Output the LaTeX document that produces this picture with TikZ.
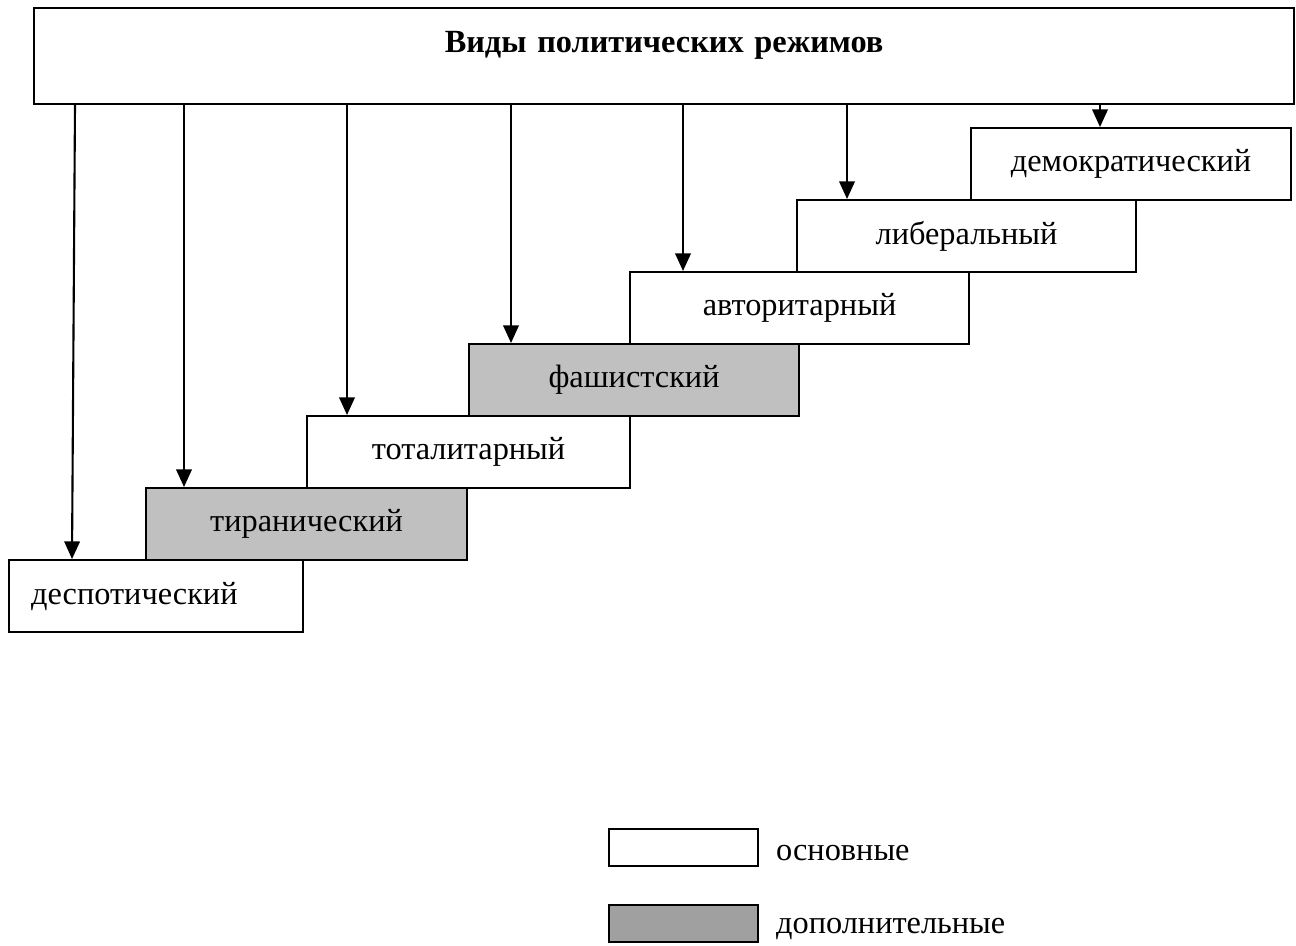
\documentclass[tikz,border=0pt]{standalone}
\usepackage{fontspec}
\setmainfont{Liberation Serif}
\usetikzlibrary{arrows.meta}

\definecolor{addgray}{HTML}{C0C0C0}
\definecolor{legendgray}{HTML}{A0A0A0}

\begin{document}
\begin{tikzpicture}[x=0.1mm, y=-0.1mm, line width=0.6pt,
  regime/.style={draw, anchor=north west, inner sep=0pt, minimum height=0.72cm, align=center, font=\fontsize{9.2}{11}\selectfont},
  extra/.style={regime, fill=addgray},
  arr/.style={-{Triangle[length=5pt, width=4.4pt]}}]

\useasboundingbox (0,0) rectangle (1296,945);

\node[draw, anchor=north west, inner sep=0pt, text width=12.6cm, text height=0.44cm, text depth=0.52cm, align=center, font=\fontsize{9.2}{11}\selectfont\bfseries] (0) at (33,7) {Виды политических режимов};

\node[regime, minimum width=3.2cm] (1) at (970,127) {демократический};
\node[regime, minimum width=3.39cm] (2) at (796,199) {либеральный};
\node[regime, minimum width=3.39cm] (3) at (629,271) {авторитарный};
\node[extra, minimum width=3.3cm] (4) at (468,343) {фашистский};
\node[regime, minimum width=3.23cm] (5) at (306,415) {тоталитарный};
\node[extra, minimum width=3.21cm] (6) at (145,487) {тиранический};
\node[regime, text width=2.5cm, inner xsep=0.22cm, align=left] (7) at (8,559) {деспотический};

\draw[arr] (0.south -| 1100,0) -- (1.north -| 1100,0);
\draw[arr] (0.south -| 847,0) -- (2.north -| 847,0);
\draw[arr] (0.south -| 683,0) -- (3.north -| 683,0);
\draw[arr] (0.south -| 511,0) -- (4.north -| 511,0);
\draw[arr] (0.south -| 347,0) -- (5.north -| 347,0);
\draw[arr] (0.south -| 184,0) -- (6.north -| 184,0);
\draw[arr] (0.south -| 75,0) -- (7.north -| 72,0);

% legend
\node[draw, anchor=north west, minimum width=1.49cm, minimum height=0.37cm, inner sep=0pt] (a) at (608,828) {};
\node[draw, anchor=north west, minimum width=1.49cm, minimum height=0.37cm, inner sep=0pt, fill=legendgray] (b) at (608,904) {};
\node[right, inner xsep=0.16cm, yshift=-0.05cm, font=\fontsize{9.2}{11}\selectfont] (c) at (a.east) {основные};
\node[right, inner xsep=0.16cm, yshift=-0.05cm, font=\fontsize{9.2}{11}\selectfont] (d) at (b.east) {дополнительные};

\end{tikzpicture}
\end{document}
